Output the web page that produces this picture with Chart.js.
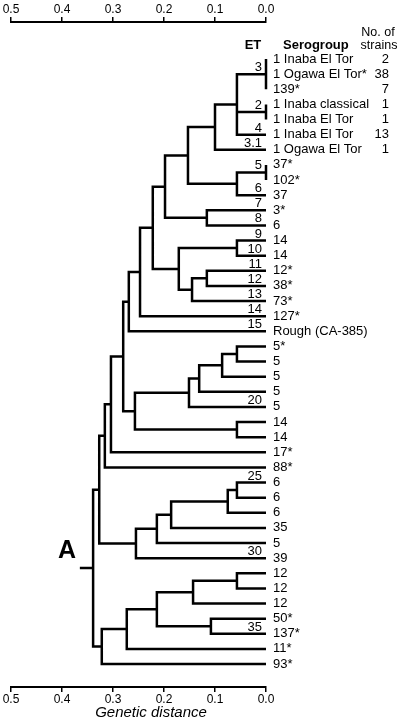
<!DOCTYPE html>
<html lang="en">
<head>
<meta charset="UTF-8" />
<title>Genetic distance dendrogram</title>
<style>
  html, body { margin: 0; padding: 0; background: #fff; }
  #wrap { width: 402px; height: 725px; }
</style>
</head>
<body>
<div id="wrap"><canvas id="tree" width="402" height="725"></canvas></div>
<script src="https://cdn.jsdelivr.net/npm/chart.js"></script>
<script>
  // leaf rows, top to bottom
  const serogroups = [
    '1 Inaba El Tor', '1 Ogawa El Tor*', '139*', '1 Inaba classical', '1 Inaba El Tor',
    '1 Inaba El Tor', '1 Ogawa El Tor', '37*', '102*', '37', '3*', '6', '14', '14',
    '12*', '38*', '73*', '127*', 'Rough (CA-385)', '5*', '5', '5', '5', '5', '14', '14',
    '17*', '88*', '6', '6', '6', '35', '5', '39', '12', '12', '12', '50*', '137*', '11*', '93*'
  ];
  const strainCounts = [2, 38, 7, 1, 1, 13, 1]; // only given for the first rows

  // ET numbers and the row whose branch they sit on
  const etLabels = ['3', '2', '4', '3.1', '5', '6', '7', '8', '9', '10', '11', '12', '13', '14', '15', '20', '25', '30', '35'];
  const etRows = [1, 3.5, 5, 6, 7.5, 9, 10, 11, 12, 13, 14, 15, 16, 17, 18, 23, 28, 33, 38];

  // clusters: [name, genetic distance, members (row index or cluster name)]
  const clusters = [
    ['a', 0.0, [0, 1, 2]],
    ['b', 0.0, [3, 4]],
    ['c', 0.057, ['a', 'b', 5]],
    ['d', 0.100, ['c', 6]],
    ['e1', 0.0, [7, 8]],
    ['e', 0.057, ['e1', 9]],
    ['f', 0.153, ['d', 'e']],
    ['g', 0.116, [10, 11]],
    ['h', 0.198, ['f', 'g']],
    ['i', 0.057, [12, 13]],
    ['j', 0.116, [14, 15]],
    ['k', 0.145, ['j', 16]],
    ['l', 0.171, ['i', 'k']],
    ['m', 0.222, ['h', 'l']],
    ['n', 0.247, ['m', 17]],
    ['o', 0.269, ['n', 18]],
    ['p1', 0.057, [19, 20]],
    ['p2', 0.086, ['p1', 21]],
    ['p3', 0.131, ['p2', 22]],
    ['p4', 0.151, ['p3', 23]],
    ['q', 0.057, [24, 25]],
    ['r', 0.257, ['p4', 'q']],
    ['s', 0.280, ['o', 'r']],
    ['t', 0.304, ['s', 26]],
    ['u', 0.316, ['t', 27]],
    ['v1', 0.057, [28, 29]],
    ['v2', 0.075, ['v1', 30]],
    ['v3', 0.186, ['v2', 31]],
    ['v4', 0.214, ['v3', 32]],
    ['v5', 0.255, ['v4', 33]],
    ['w', 0.327, ['u', 'v5']],
    ['x1', 0.057, [34, 35]],
    ['x2', 0.143, ['x1', 36]],
    ['x3', 0.108, [37, 38]],
    ['x4', 0.214, ['x2', 'x3']],
    ['x5', 0.273, ['x4', 39]],
    ['x6', 0.322, ['x5', 40]],
    ['root', 0.339, ['w', 'x6']]
  ];
  const rootStub = 0.365;
  const axisTicks = [0.5, 0.4, 0.3, 0.2, 0.1, 0.0];

  // turn the clusters into line pieces (null point = break)
  const pos = {};
  serogroups.forEach((_, i) => { pos[i] = { x: 0, y: i }; });
  const segs = [];
  const gap = { x: null, y: null };
  clusters.forEach(([name, d, kids]) => {
    const first = pos[kids[0]];
    const last = pos[kids[kids.length - 1]];
    segs.push({ x: first.x, y: first.y }, { x: d, y: first.y }, { x: d, y: last.y }, { x: last.x, y: last.y }, gap);
    kids.slice(1, -1).forEach(k => {
      segs.push({ x: d, y: pos[k].y }, { x: pos[k].x, y: pos[k].y }, gap);
    });
    pos[name] = { x: d, y: (first.y + last.y) / 2 };
  });
  segs.push({ x: pos.root.x, y: pos.root.y }, { x: rootStub, y: pos.root.y });

  Chart.defaults.font.family = '"Liberation Sans", Arial, sans-serif';
  Chart.defaults.color = '#000';

  const FONT = '"Liberation Sans", Arial, sans-serif';

  const labelsPlugin = {
    id: 'treeLabels',
    afterDraw(chart) {
      const ctx = chart.ctx;
      const x = chart.scales.x;
      const y = chart.scales.y;
      const x0 = x.getPixelForValue(0);
      ctx.save();
      ctx.fillStyle = '#000';

      // headers
      ctx.textBaseline = 'alphabetic';
      ctx.font = 'bold 13px ' + FONT;
      ctx.textAlign = 'center';
      ctx.fillText('ET', 253, 49);
      ctx.textAlign = 'left';
      ctx.fillText('Serogroup', 283, 49);
      ctx.font = '12.5px ' + FONT;
      ctx.textAlign = 'center';
      ctx.fillText('No. of', 378, 36);
      ctx.fillText('strains', 379, 49);

      // leaf names and counts
      ctx.font = '13px ' + FONT;
      ctx.textBaseline = 'middle';
      serogroups.forEach((s, i) => {
        const py = y.getPixelForValue(i);
        ctx.textAlign = 'left';
        ctx.fillText(s, x0 + 7, py);
        if (i < strainCounts.length) {
          ctx.textAlign = 'right';
          ctx.fillText(String(strainCounts[i]), 389, py);
        }
      });

      // ET numbers above branches
      ctx.textAlign = 'right';
      ctx.textBaseline = 'alphabetic';
      etLabels.forEach((t, i) => {
        ctx.fillText(t, x0 - 4, y.getPixelForValue(etRows[i]) - 3);
      });

      // panel letter
      ctx.font = 'bold 25px ' + FONT;
      ctx.textAlign = 'center';
      ctx.textBaseline = 'middle';
      ctx.fillText('A', 67, 551);

      // axis title
      ctx.font = 'italic 15px ' + FONT;
      ctx.fillText('Genetic distance', 151, 713);
      ctx.restore();
    }
  };

  const axisBase = {
    type: 'linear',
    min: 0,
    max: 0.5,
    reverse: true,
    afterBuildTicks: s => { s.ticks = axisTicks.map(v => ({ value: v })); },
    grid: { display: true, drawOnChartArea: false, drawTicks: true, tickLength: 5, color: '#000', lineWidth: 1.5 },
    border: { display: true, color: '#000', width: 2 },
    ticks: { font: { size: 12 }, padding: 0, maxRotation: 0, autoSkip: false, callback: v => v.toFixed(1) }
  };

  new Chart(document.getElementById('tree'), {
    type: 'scatter',
    data: {
      datasets: [{
        data: segs,
        showLine: true,
        borderColor: '#000',
        borderWidth: 2.5,
        borderJoinStyle: 'miter',
        borderCapStyle: 'butt',
        pointRadius: 0,
        pointHoverRadius: 0,
        spanGaps: false,
        clip: false
      }]
    },
    options: {
      responsive: false,
      devicePixelRatio: 1,
      animation: false,
      layout: { padding: { left: 11, right: 136, top: 0, bottom: 0 } },
      plugins: { legend: { display: false }, tooltip: { enabled: false } },
      scales: {
        x: Object.assign({}, axisBase, {
          position: 'bottom',
          afterFit: s => { s.height = 38; }
        }),
        x2: Object.assign({}, axisBase, {
          position: 'top',
          afterFit: s => { s.height = 22; }
        }),
        y: { type: 'linear', display: false, reverse: true, min: -2.45, max: 41.52 }
      }
    },
    plugins: [labelsPlugin]
  });
</script>
</body>
</html>
